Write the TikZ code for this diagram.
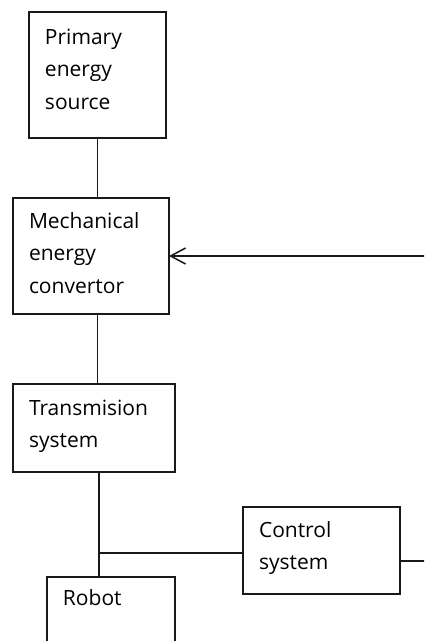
\documentclass[tikz,border=0pt]{standalone}
\usepackage{fontspec}
\setmainfont{Open Sans}
\usetikzlibrary{arrows.meta}
\begin{document}
\begin{tikzpicture}[x=1pt,y=-1pt]
	\tikzstyle{every node}=[font=\fontsize{21pt}{32.5pt}\selectfont]
	\tikzstyle{block}=[draw=black!90, line width=1.6pt, anchor=north west, align=left, inner xsep=16pt, inner ysep=0pt, outer sep=0pt]
	\tikzstyle{wire}=[draw=black!90, line width=1.5pt]
	\useasboundingbox (0,0) rectangle (424,641);
	\clip (0,0) rectangle (424,641);
	
	\node [block, text width=105pt, text height=32pt, text depth=94pt] (prim) at (29,12) {Primary\\energy\\source};
	\node [block, text width=124pt, text height=30pt, text depth=86pt] (mech) at (13,198) {Mechanical\\energy\\convertor};
	\node [block, text width=130pt, text height=31pt, text depth=57pt] (trans) at (13,384) {Transmision\\system};
	\node [block, text width=125pt, text height=30pt, text depth=57pt] (ctrl) at (243,507) {Control\\system};
	\node [block, text width=96pt, text height=28pt, text depth=90pt] (robot) at (47,577) {Robot};
	
	\coordinate (joint) at (99,553);
	\coordinate (fb) at (432,561);
	
	\draw [wire] (prim.south) -- (prim.south |- mech.north);
	\draw [wire] (prim.south |- mech.south) -- (prim.south |- trans.north);
	\draw [wire] (joint |- trans.south) -- (joint |- robot.north);
	\draw [wire] (joint) -- (joint -| ctrl.west);
	\draw [wire, -{Straight Barb[length=15pt,width=16pt]}] (ctrl.east |- fb) -- (fb) |- (mech.east);
\end{tikzpicture}
\end{document}
